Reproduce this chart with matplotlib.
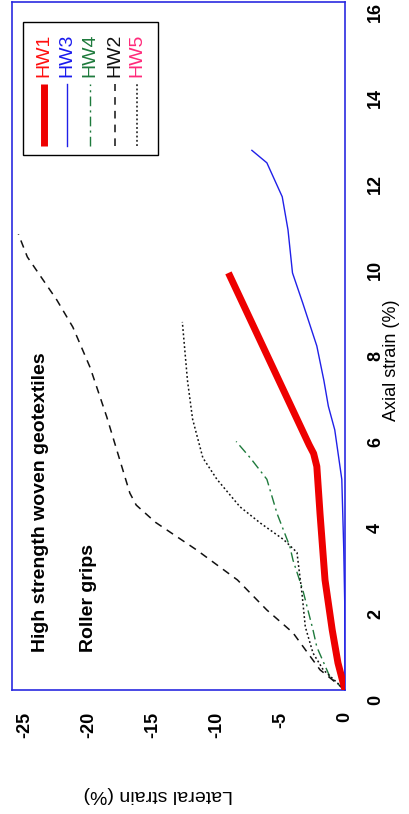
import matplotlib
matplotlib.use("Agg")
import matplotlib.pyplot as plt
import matplotlib.transforms as mtransforms

plt.rcParams['font.family'] = ['Liberation Sans', 'DejaVu Sans']

# Data (lateral strain %, axial strain %) -- chart is displayed rotated 90 degrees
hw1_axial = [0, 0.63, 1.4, 2.56, 4.1, 5.2, 5.5, 5.7, 9.7]
hw1_lateral = [0, -0.55, -1.0, -1.56, -1.95, -2.2, -2.45, -2.8, -9.1]

hw3_axial = [0, 1.0, 2.0, 3.3, 4.9, 6.05, 6.6, 7.2, 8.0, 9.0, 9.7, 10.7, 11.47, 12.26, 12.55]
hw3_lateral = [0, 0, -0.02, -0.1, -0.25, -0.8, -1.3, -1.65, -2.2, -3.3, -4.1, -4.45, -4.9, -6.1, -7.27]

hw4_axial = [0, 0.3, 1.0, 1.4, 2.33, 3.02, 3.33, 4.1, 4.9, 5.4, 5.78]
hw4_lateral = [0, -1.17, -2.2, -2.5, -3.3, -4.06, -4.3, -5.3, -6.1, -7.4, -8.5]

hw2_axial = [0, 0.47, 1.33, 1.86, 2.56, 3.26, 3.9, 4.3, 4.58, 6.35, 7.5, 8.44, 9.07, 10.07, 10.6]
hw2_lateral = [0, -1.95, -4.06, -6.1, -8.4, -11.6, -14.8, -16.3, -16.8, -18.6, -19.9, -21.25, -22.5, -24.8, -25.5]

hw5_axial = [0, 0.47, 0.86, 1.47, 2.25, 3.0, 3.2, 3.5, 3.88, 4.26, 4.9, 5.4, 6.3, 7.2, 8.56]
hw5_lateral = [0, -1.7, -2.5, -3.1, -3.36, -3.67, -3.75, -4.8, -6.6, -8.2, -10.0, -11.1, -11.9, -12.3, -12.7]

lateral_ticks = [-25, -20, -15, -10, -5, 0]
axial_ticks = [0, 2, 4, 6, 8, 10, 12, 14, 16]

legend_names = ['HW1', 'HW3', 'HW4', 'HW2', 'HW5']
legend_text_colors = ['#ff1010', '#1a1aee', '#1e7a3c', '#111111', '#ff2a7a']

W, H = 409, 814
fig = plt.figure(figsize=(W / 100, H / 100), dpi=100)
ax = fig.add_axes([12 / W, 1 - 690 / H, 333 / W, 688 / H])

ax.plot(hw3_lateral, hw3_axial, color='#2020e8', lw=1.0, zorder=3)
ax.plot(hw4_lateral, hw4_axial, color='#1e7a3c', lw=1.0, dashes=(7, 3, 1.5, 3), zorder=3)
ax.plot(hw2_lateral, hw2_axial, color='#111111', lw=1.1, dashes=(5, 4), zorder=3)
ax.plot(hw5_lateral, hw5_axial, color='#111111', lw=1.1, dashes=(1.2, 1.6), zorder=3)
ax.plot(hw1_lateral, hw1_axial, color='#ee0000', lw=5.0, solid_capstyle='butt', zorder=4)

ax.set_xlim(-26, 0)
ax.set_ylim(0, 16)
ax.set_xticks(lateral_ticks)
ax.set_yticks(axial_ticks)
ax.set_xticklabels([str(t) for t in lateral_ticks], rotation=90, fontsize=13, fontweight='bold')
ax.set_yticklabels([str(t) for t in axial_ticks], rotation=90, fontsize=13, fontweight='bold')
ax.tick_params(axis='x', length=0, pad=16)
ax.tick_params(axis='y', length=0, pad=16, left=False, labelleft=False, labelright=True)
shift = mtransforms.ScaledTranslation(0, -0.1, fig.dpi_scale_trans)
for lab in ax.get_yticklabels():
    lab.set_va('center')
    lab.set_ha('left')
    lab.set_transform(lab.get_transform() + shift)
for sp in ax.spines.values():
    sp.set_color('#2a2ae0')
    sp.set_linewidth(1.2)

fig.text(392 / W, 1 - 360 / H, 'Axial strain (%)', rotation=90, fontsize=13,
         ha='center', va='center')
fig.text(158 / W, 1 - 795 / H, 'Lateral strain (%)', rotation=180, fontsize=14,
         ha='center', va='center')

ax.text(-23.8, 0.88, 'High strength woven geotextiles', rotation=90, fontsize=14,
        fontweight='bold', ha='center', va='bottom')
ax.text(-20.05, 0.88, 'Roller grips', rotation=90, fontsize=14,
        fontweight='bold', ha='center', va='bottom')

# Legend (rotated layout) drawn in axes coordinates
def axx(px):
    return (px - 12) / 333

def axy(py):
    return (690 - py) / 688

ax.add_patch(plt.Rectangle((axx(23), axy(155)), axx(158) - axx(23), axy(22) - axy(155),
                           transform=ax.transAxes, fill=True, facecolor='white',
                           edgecolor='black', lw=1.0, zorder=5))
col_x = [44, 67, 90, 115, 137]
styles = [dict(color='#ee0000', lw=5.0, solid_capstyle='butt'),
          dict(color='#2020e8', lw=1.0),
          dict(color='#1e7a3c', lw=1.0, dashes=(7, 3, 1.5, 3)),
          dict(color='#111111', lw=1.1, dashes=(5, 4)),
          dict(color='#111111', lw=1.1, dashes=(1.2, 1.6))]
for name, tc, cx, st in zip(legend_names, legend_text_colors, col_x, styles):
    ax.plot([axx(cx), axx(cx)], [axy(146), axy(84)], transform=ax.transAxes,
            zorder=6, **st)
    ax.text(axx(cx), axy(77), name, color=tc, rotation=90, fontsize=14,
            ha='center', va='bottom', transform=ax.transAxes, zorder=6)

fig.savefig('out.png', dpi=100)
